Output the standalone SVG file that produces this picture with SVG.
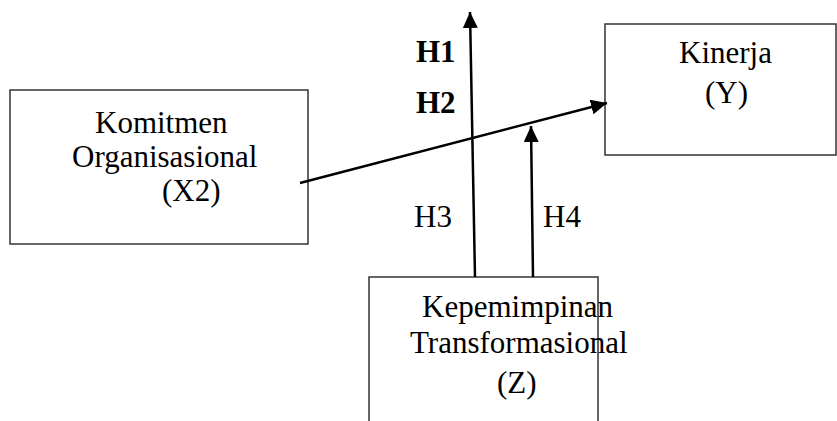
<svg xmlns="http://www.w3.org/2000/svg" width="837" height="421" viewBox="0 0 837 421">
<style>
.box{fill:#fff;stroke:#333;stroke-width:1.5}
.t{font-family:"Liberation Serif","Times New Roman",serif;font-size:31px;fill:#000}
.b{font-weight:bold}
.c{stroke:#000;stroke-width:2.5;fill:none;marker-end:url(#ah)}
</style>
<defs>
<marker id="ah" markerUnits="userSpaceOnUse" markerWidth="16" markerHeight="15" refX="16" refY="7.5" orient="auto">
<path d="M0,0 L16,7.5 L0,15 z" fill="#000"/>
</marker>
</defs>
<rect width="837" height="421" fill="#fff"/>
<g id="node-x2">
<rect class="box" x="10" y="90" width="298" height="154"/>
<text class="t" x="95" y="133">Komitmen</text>
<text class="t" x="72" y="167">Organisasional</text>
<text class="t" x="162" y="201">(X2)</text>
</g>
<g id="node-y">
<rect class="box" x="605" y="24" width="231" height="131"/>
<text class="t" x="679" y="63">Kinerja</text>
<text class="t" x="705" y="103">(Y)</text>
</g>
<g id="node-z">
<path class="box" d="M369,422 V277 H598 V422"/>
<text class="t" x="422" y="317">Kepemimpinan</text>
<text class="t" x="410" y="353">Transformasional</text>
<text class="t" x="497" y="393">(Z)</text>
</g>
<g id="connectors">
<line class="c" x1="475" y1="277" x2="470" y2="12"/>
<line class="c" x1="533" y1="277" x2="531" y2="126"/>
<line class="c" x1="300" y1="183" x2="607" y2="103"/>
</g>
<g id="labels">
<text class="t b" x="416" y="62">H1</text>
<text class="t b" x="416" y="113">H2</text>
<text class="t" x="414" y="227">H3</text>
<text class="t" x="543" y="227">H4</text>
</g>
</svg>
